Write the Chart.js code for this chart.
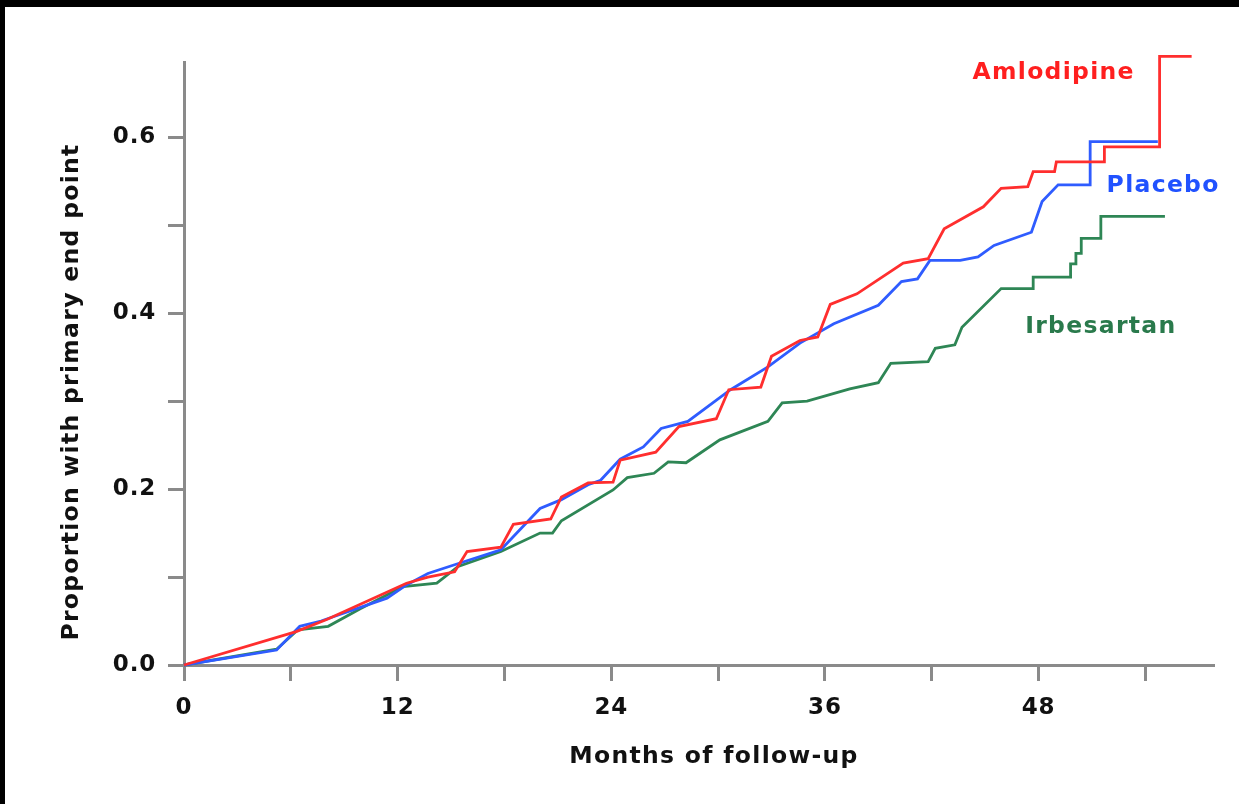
<!DOCTYPE html>
<html>
<head>
<meta charset="utf-8">
<script src="https://cdn.jsdelivr.net/npm/chart.js@4"></script>
<style>
    html, body { margin: 0; padding: 0; background: #000; }
    #wrap { position: absolute; left: 5px; top: 7px; width: 1234px; height: 797px; background: #fff; }
</style>
</head>
<body>
<div id="wrap"><canvas id="myChart" width="1234" height="797"></canvas></div>
<script>
// Months of follow-up / cumulative proportion with primary end point
const placeboMonths = [0, 5.2, 6.5, 7.7, 11.4, 12.5, 13.7, 15.2, 17.8, 20.0, 21.2, 22.7, 23.4, 24.5, 25.8, 26.8, 28.3, 30.7, 32.8, 34.6, 36.5, 39.0, 40.3, 41.2, 41.9, 43.6, 44.6, 45.5, 47.6, 48.2, 49.1, 50.9, 50.9, 54.7]
const placeboValues = [0, 0.017, 0.044, 0.050, 0.076, 0.091, 0.104, 0.114, 0.131, 0.178, 0.188, 0.205, 0.210, 0.234, 0.248, 0.269, 0.277, 0.313, 0.339, 0.366, 0.388, 0.409, 0.436, 0.439, 0.460, 0.460, 0.464, 0.477, 0.492, 0.527, 0.546, 0.546, 0.595, 0.595]

const amlodipineMonths = [0, 6.3, 8.05, 12.5, 13.7, 15.2, 15.9, 17.8, 18.5, 20.6, 21.2, 22.7, 24.1, 24.5, 26.5, 27.8, 29.9, 30.6, 32.4, 33.0, 34.6, 35.6, 36.3, 37.8, 40.4, 41.8, 42.7, 44.9, 45.9, 47.4, 47.7, 48.9, 49.0, 51.7, 51.7, 54.8, 54.8, 56.6]
const amlodipineValues = [0, 0.038, 0.052, 0.093, 0.100, 0.106, 0.129, 0.134, 0.160, 0.166, 0.191, 0.207, 0.208, 0.233, 0.242, 0.271, 0.280, 0.313, 0.316, 0.351, 0.369, 0.373, 0.410, 0.422, 0.457, 0.462, 0.496, 0.521, 0.542, 0.544, 0.561, 0.561, 0.572, 0.572, 0.589, 0.589, 0.692, 0.692]

const irbesartanMonths = [0, 5.2, 6.4, 8.1, 9.9, 12.3, 14.2, 15.4, 17.8, 20.0, 20.7, 21.2, 24.1, 24.9, 26.4, 27.2, 28.2, 30.1, 32.8, 33.6, 35.0, 37.4, 39.0, 39.7, 41.8, 42.2, 43.3, 43.7, 45.9, 47.7, 47.7, 49.8, 49.8, 50.1, 50.1, 50.4, 50.4, 51.5, 51.5, 55.1]
const irbesartanValues = [0, 0.018, 0.040, 0.044, 0.064, 0.089, 0.093, 0.112, 0.129, 0.150, 0.150, 0.164, 0.199, 0.213, 0.218, 0.231, 0.230, 0.256, 0.277, 0.298, 0.300, 0.314, 0.321, 0.343, 0.345, 0.360, 0.364, 0.384, 0.428, 0.428, 0.441, 0.441, 0.456, 0.456, 0.468, 0.468, 0.485, 0.485, 0.510, 0.510]

const seriesNames = ['Amlodipine', 'Placebo', 'Irbesartan']

// Tick marks and their labels
const xTickValues = [0, 6, 12, 18, 24, 30, 36, 42, 48, 54]
const xTickLabels = ['0', '', '12', '', '24', '', '36', '', '48', '']
const yTickValues = [0, 0.1, 0.2, 0.3, 0.4, 0.5, 0.6]
const yTickLabels = ['0.0', '', '0.2', '', '0.4', '', '0.6']

const xTitle = 'Months of follow-up'
const yTitle = 'Proportion with primary end point'

const toPoints = (xs, ys) => xs.map((x, i) => ({ x: x, y: ys[i] }))

const colors = ['#ff2e2e', '#2f5cff', '#2e8655']
const textColors = ['#ff1f1f', '#2152ff', '#2a7a4c']
const axisColor = '#8a8a8a'
const fontFamily = '"DejaVu Sans", Verdana, sans-serif'

// A bit of letter spacing, the original font runs wider than DejaVu
const spacingPlugin = {
    id: 'spacing',
    beforeDraw(chart) {
        chart.ctx.letterSpacing = '0.8px'
    }
}

// Draw series names and axis titles
const textPlugin = {
    id: 'chartText',
    afterDraw(chart) {
        const { ctx, scales } = chart
        const anchors = [[48.85, 0.673], [55.0, 0.545], [51.5, 0.384]]
        ctx.save()
        ctx.letterSpacing = '1.3px'
        ctx.font = 'bold 23.5px ' + fontFamily
        ctx.textAlign = 'center'
        ctx.textBaseline = 'middle'
        seriesNames.forEach((name, i) => {
            ctx.fillStyle = textColors[i]
            ctx.fillText(name, scales.x.getPixelForValue(anchors[i][0]), scales.y.getPixelForValue(anchors[i][1]))
        })

        ctx.fillStyle = '#111'
        ctx.fillText(xTitle, 709, 750)
        ctx.translate(67, 385)
        ctx.rotate(-Math.PI / 2)
        ctx.fillText(yTitle, 0, 0)
        ctx.restore()
    }
}

const axisGrid = {
    drawOnChartArea: false,
    drawTicks: true,
    tickLength: 16,
    color: axisColor,
    lineWidth: 3
}

const tickFont = { family: fontFamily, weight: 'bold', size: 23 }

const ctx = document.getElementById('myChart')

const chart = new Chart(ctx, {
    type: 'line',
    data: {
        datasets: [{
            label: seriesNames[0],
            data: toPoints(amlodipineMonths, amlodipineValues),
            borderColor: colors[0],
            borderWidth: 2.8,
            clip: false
        }, {
            label: seriesNames[1],
            data: toPoints(placeboMonths, placeboValues),
            borderColor: colors[1],
            borderWidth: 2.8,
            clip: false
        }, {
            label: seriesNames[2],
            data: toPoints(irbesartanMonths, irbesartanValues),
            borderColor: colors[2],
            borderWidth: 2.8,
            clip: false
        }]
    },
    options: {
        responsive: false,
        animation: false,
        elements: {
            point: { radius: 0 },
            line: { tension: 0, fill: false }
        },
        layout: {
            padding: { top: 55, right: 26, left: 0, bottom: 0 }
        },
        plugins: {
            legend: { display: false },
            tooltip: { enabled: false }
        },
        scales: {
            x: {
                type: 'linear',
                min: 0,
                max: 57.8,
                grid: axisGrid,
                border: { display: true, color: axisColor, width: 3 },
                afterBuildTicks: s => { s.ticks = xTickValues.map(v => ({ value: v })) },
                afterFit: s => { s.height = 139 },
                ticks: {
                    font: tickFont,
                    color: '#111',
                    padding: 13,
                    maxRotation: 0,
                    autoSkip: false,
                    callback: (v, i) => xTickLabels[i]
                }
            },
            y: {
                type: 'linear',
                min: 0,
                max: 0.6856,
                grid: axisGrid,
                border: { display: true, color: axisColor, width: 3 },
                afterBuildTicks: s => { s.ticks = yTickValues.map(v => ({ value: v })) },
                afterFit: s => { s.width = 179 },
                ticks: {
                    font: tickFont,
                    color: '#111',
                    padding: 12,
                    autoSkip: false,
                    callback: (v, i) => yTickLabels[i]
                }
            }
        }
    },
    plugins: [spacingPlugin, textPlugin]
})
</script>
</body>
</html>
